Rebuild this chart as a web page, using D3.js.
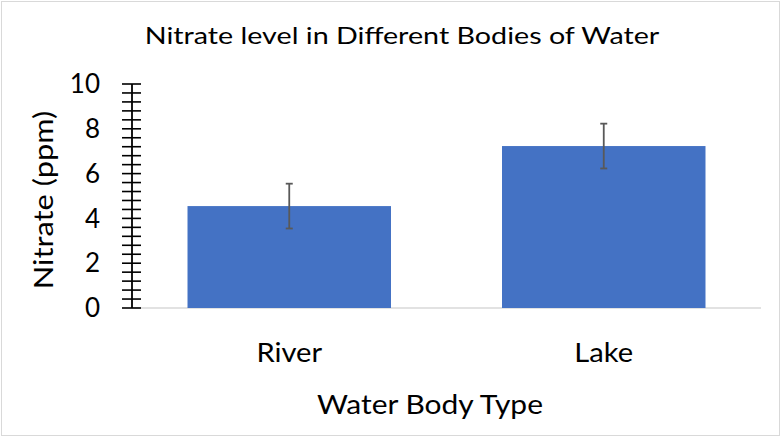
<!DOCTYPE html>
<html><head><meta charset="utf-8">
<script src="https://cdn.jsdelivr.net/npm/d3@7/dist/d3.min.js"></script>
<style>html,body{margin:0;padding:0;background:#fff;}svg{display:block;font-family:Lato,"Open Sans",sans-serif;}</style>
</head><body>
<svg id="c" width="782" height="440"></svg>
<script>
const categories = ["River", "Lake"];
const values = [4.55, 7.23];
const errors = [1.0, 1.0];
const yTickValues = [0, 2, 4, 6, 8, 10];
const title = "Nitrate level in Different Bodies of Water";
const xTitle = "Water Body Type";
const yTitle = "Nitrate (ppm)";

const svg = d3.select("#c");
svg.append("rect").attr("x",1.5).attr("y",1.5).attr("width",778).attr("height",434)
  .attr("fill","#fff").attr("stroke","#d9d9d9").attr("stroke-width",1);

const x = d3.scaleBand().domain(categories).range([132, 761]).paddingInner(0.353).paddingOuter(0.1765);
const y = d3.scaleLinear().domain([0, 10]).range([308, 84]);

function stretch(sel, k) {
  sel.each(function() {
    const w = this.getComputedTextLength();
    d3.select(this).attr("textLength", w * k).attr("lengthAdjust", "spacingAndGlyphs");
  });
}

// baseline
svg.append("line").attr("x1",132).attr("x2",761).attr("y1",y(0)).attr("y2",y(0))
  .attr("stroke","#d9d9d9").attr("stroke-width",1.5);

// bars
svg.selectAll("rect.bar").data(categories).join("rect").attr("class","bar")
  .attr("x", d => x(d)).attr("width", x.bandwidth())
  .attr("y", (d,i) => y(values[i])).attr("height", (d,i) => y(0) - y(values[i]))
  .attr("fill", "#4472C4");

// error bars
const eb = svg.append("g").attr("stroke","#595959").attr("stroke-width",1.8).attr("fill","none");
categories.forEach((c,i) => {
  const cx = x(c) + x.bandwidth()/2;
  eb.append("line").attr("x1",cx).attr("x2",cx).attr("y1",y(values[i]+errors[i])).attr("y2",y(values[i]-errors[i]));
  eb.append("line").attr("x1",cx-3.5).attr("x2",cx+3.5).attr("y1",y(values[i]+errors[i])).attr("y2",y(values[i]+errors[i]));
  eb.append("line").attr("x1",cx-3.5).attr("x2",cx+3.5).attr("y1",y(values[i]-errors[i])).attr("y2",y(values[i]-errors[i]));
});

// y axis with crossing minor ticks
const minor = d3.range(0, 10.0001, 0.4);
const ya = svg.append("g");
ya.append("line").attr("x1",132).attr("x2",132).attr("y1",y(0)).attr("y2",y(10)).attr("stroke","#000").attr("stroke-width",1.8);
ya.selectAll("line.t").data(minor).join("line").attr("class","t")
  .attr("x1",122).attr("x2",141).attr("y1",d=>y(d)).attr("y2",d=>y(d))
  .attr("stroke","#000").attr("stroke-width",1.6);
ya.selectAll("text").data(yTickValues).join("text")
  .attr("x",100).attr("y",d=>y(d)).attr("dy","0.35em").attr("text-anchor","end")
  .attr("font-size",26).attr("fill","#000").text(d=>d);

// x labels
svg.selectAll("text.xl").data(categories).join("text").attr("class","xl")
  .attr("x", d => x(d) + x.bandwidth()/2).attr("y", 362).attr("text-anchor","middle")
  .attr("font-size",27.5).attr("fill","#000").text(d=>d).call(stretch, 1.06);

svg.append("text").attr("x",430).attr("y",413.5).attr("text-anchor","middle").attr("font-size",26.5).attr("fill","#000").text(xTitle).call(stretch, 1.13);
svg.append("text").attr("transform","translate(53,200) rotate(-90)").attr("text-anchor","middle").attr("font-size",27.5).attr("fill","#000").text(yTitle).call(stretch, 1.12);
svg.append("text").attr("x",402).attr("y",43.5).attr("text-anchor","middle").attr("font-size",23.5).attr("fill","#000").text(title).call(stretch, 1.22);
</script>
</body></html>
